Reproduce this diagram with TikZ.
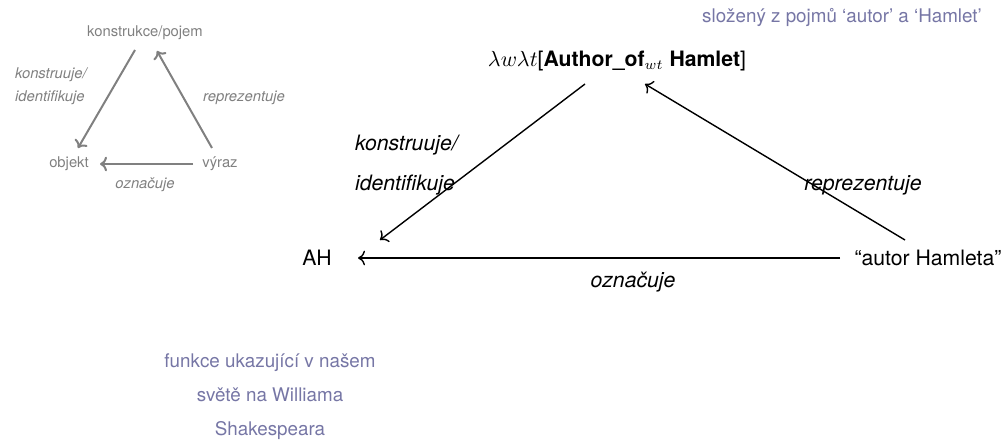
\documentclass[tikz,border=0pt]{standalone}
\usepackage{fontspec}
\setmainfont{TeX Gyre Heros}
\usetikzlibrary{arrows.meta}
\definecolor{conceptgray}{RGB}{128,128,128}
\definecolor{notepurple}{RGB}{118,118,165}

\tikzset{
  bigtext/.style={font=\fontsize{10.6}{12}\selectfont},
  biglabel/.style={font=\fontsize{10.6}{20}\selectfont\itshape, align=left},
  smalltext/.style={font=\fontsize{7.4}{9}\selectfont, text=conceptgray},
  smalllabel/.style={font=\fontsize{7.4}{11.5}\selectfont\itshape, text=conceptgray, align=left},
  notetext/.style={font=\fontsize{9.4}{17}\selectfont, text=notepurple, align=center},
  bigarrow/.style={-{To[length=3.5pt]}, line width=0.7pt},
  smallarrow/.style={-{To[length=3.5pt]}, draw=conceptgray, line width=1pt},
}

\begin{document}
\begin{tikzpicture}[x=0.5pt, y=-0.5pt]
  \useasboundingbox (0,0) rectangle (1007,443);

  % small triangle (general scheme)
  \node[smalltext] (konstrukce) at (145,33) {konstrukce/pojem};
  \node[smalltext] (objekt) at (69,164) {objekt};
  \node[smalltext] (vyraz) at (220,164) {výraz};
  \node[smalllabel, anchor=west] (lkonstruuje) at (8,86) {konstruuje/\\identifikuje};
  \node[smalllabel] (lreprezentuje) at (244,98) {reprezentuje};
  \node[smalllabel] (loznacuje) at (145,185) {označuje};

  \draw[smallarrow] ([shift={(-10,17)}]konstrukce.center) -- ([shift={(9,-16)}]objekt.center);
  \draw[smallarrow] ([shift={(-8,-16)}]vyraz.center) -- ([shift={(12,18)}]konstrukce.center);
  \draw[smallarrow] ([shift={(-27,0)}]vyraz.center) -- ([shift={(31,0)}]objekt.center);

  % big triangle (example)
  \node[bigtext] (construction) at (617,61)
    {$\lambda w\lambda t$[\textbf{Author\_of}$_{wt}$ \textbf{Hamlet}]};
  \node[bigtext] (ah) at (317,258) {AH};
  \node[bigtext] (expr) at (928,258) {“autor Hamleta”};
  \node[biglabel, anchor=west] (bkonstruuje) at (348,165) {konstruuje/\\identifikuje};
  \node[biglabel] (breprezentuje) at (863,185) {reprezentuje};
  \node[biglabel] (boznacuje) at (633,282) {označuje};

  \draw[bigarrow] ([shift={(-32,23)}]construction.center) -- ([shift={(63,-18)}]ah.center);
  \draw[bigarrow] ([shift={(-23,-18)}]expr.center) -- ([shift={(28,23)}]construction.center);
  \draw[bigarrow] ([shift={(-88,0)}]expr.center) -- ([shift={(41,0)}]ah.center);

  % notes
  \node[notetext] (notecomposed) at (842,17) {složený z pojmů ‘autor’ a ‘Hamlet’};
  \node[notetext] (notefunction) at (270,397)
    {funkce ukazující v našem\\světě na Williama\\Shakespeara};
\end{tikzpicture}
\end{document}
